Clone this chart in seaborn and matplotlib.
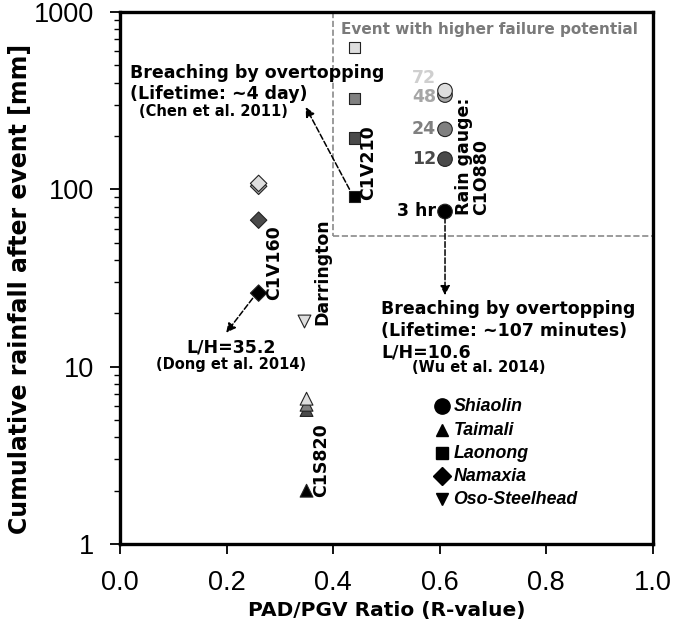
import pandas as pd
import seaborn as sns
import matplotlib.pyplot as plt
from matplotlib.lines import Line2D

# values
sites = ['Shiaolin'] * 5 + ['Taimali'] * 4 + ['Laonong'] * 4 + ['Namaxia'] * 4 + ['Oso-Steelhead']
durations = [3, 12, 24, 48, 72,
             3, 12, 24, 72,
             3, 12, 24, 72,
             3, 12, 48, 72,
             72]
r_values = [0.61] * 5 + [0.35] * 4 + [0.44] * 4 + [0.26] * 4 + [0.345]
rainfall = [75, 148, 218, 340, 360,
            2.0, 5.7, 6.1, 6.6,
            91, 195, 325, 630,
            26, 67, 104, 108,
            18]

duration_colors = {3: '#000000', 12: '#4a4a4a', 24: '#808080', 48: '#a6a6a6', 72: '#dedede'}
site_markers = {'Shiaolin': 'o', 'Taimali': '^', 'Laonong': 's', 'Namaxia': 'D', 'Oso-Steelhead': 'v'}
site_sizes = {'Shiaolin': 110, 'Taimali': 85, 'Laonong': 70, 'Namaxia': 70, 'Oso-Steelhead': 85}

df = pd.DataFrame({'site': sites, 'duration': durations, 'r': r_values, 'rain': rainfall})
# draw the longer durations last so they sit on top, as in the original
df = df.sort_values('duration').reset_index(drop=True)

sns.set_style('ticks')
plt.rcParams['font.family'] = ['Liberation Sans', 'DejaVu Sans']
plt.rcParams.update({'text.color': 'black', 'axes.labelcolor': 'black', 'axes.edgecolor': 'black',
                     'xtick.color': 'black', 'ytick.color': 'black'})
BOLD = ['DejaVu Sans']

fig = plt.figure(figsize=(6.75, 6.29), dpi=100)
ax = fig.add_axes([0.178, 0.135, 0.789, 0.846])

for site, marker in site_markers.items():
    sub = df[df['site'] == site]
    sns.scatterplot(data=sub, x='r', y='rain', hue='duration', palette=duration_colors,
                    marker=marker, s=site_sizes[site], edgecolor='#222222', linewidth=0.8,
                    legend=False, ax=ax, zorder=3)

ax.set_yscale('log')
ax.set_xlim(0, 1)
ax.set_ylim(1, 1000)
ax.set_xticks([0, 0.2, 0.4, 0.6, 0.8, 1.0])
ax.set_xticklabels(['0.0', '0.2', '0.4', '0.6', '0.8', '1.0'])
ax.set_yticks([1, 10, 100, 1000])
ax.set_yticklabels(['1', '10', '100', '1000'])
ax.tick_params(axis='both', which='major', labelsize=19.5, length=7, width=1.3, direction='out')
ax.tick_params(axis='x', which='major', pad=12)
ax.tick_params(axis='y', which='major', pad=12)
ax.tick_params(axis='y', which='minor', length=4, width=1.0, direction='out')
for sp in ax.spines.values():
    sp.set_linewidth(2.4)

ax.set_xlabel('PAD/PGV Ratio (R-value)', fontsize=14.5, fontweight='bold', family=BOLD, labelpad=3)
ax.set_ylabel('Cumulative rainfall after event [mm]', fontsize=17, fontweight='bold', family=BOLD,
              labelpad=4)
ax.yaxis.set_label_coords(-0.165, 0.48)

# high failure potential region
ax.plot([0.40, 0.40], [1000, 54.6], ls='--', color='#8a8a8a', lw=1.2, zorder=1)
ax.plot([0.40, 1.0], [54.6, 54.6], ls='--', color='#8a8a8a', lw=1.2, zorder=1)
ax.text(0.415, 793, 'Event with higher failure potential', fontsize=11, fontweight='bold',
        family=BOLD, color='#7a7a7a', va='center')

# duration labels for the rain gauge
dur_labels = [('3 hr', 75, '#000000'), ('12', 148, '#4a4a4a'), ('24', 219, '#808080'),
              ('48', 331, '#a6a6a6'), ('72', 425, '#cfcfcf')]
for lab, yv, col in dur_labels:
    ax.text(0.593, yv, lab, fontsize=12.5, fontweight='bold', family=BOLD, color=col,
            ha='right', va='center')

# rotated station labels
rot = dict(rotation=90, fontsize=12.5, fontweight='bold', family=BOLD, ha='left', va='bottom')
ax.text(0.449, 87, 'C1V210', **rot)
ax.text(0.628, 71.8, 'Rain gauge:\nC1O880', linespacing=1.0, **rot)
ax.text(0.272, 23.8, 'C1V160', **rot)
ax.text(0.362, 17.2, 'Darrington', **rot)
ax.text(0.36, 1.84, 'C1S820', **rot)

# arrows and breaching notes
arrow = dict(arrowstyle='-|>', ls='--', color='black', lw=1.1, mutation_scale=14)
ax.annotate('', xy=(0.346, 300), xytext=(0.433, 97), arrowprops=arrow)
ax.annotate('', xy=(0.196, 15.1), xytext=(0.252, 25), arrowprops=arrow)
ax.annotate('', xy=(0.61, 24.4), xytext=(0.61, 72), arrowprops=arrow)

note = dict(fontsize=12.5, fontweight='bold', family=BOLD, ha='left', va='center', linespacing=1.25)
cite = dict(fontsize=10.5, fontweight='bold', family=BOLD, ha='center', va='center')
ax.text(0.019, 395, 'Breaching by overtopping\n(Lifetime: ~4 day)', **note)
ax.text(0.176, 273, '(Chen et al. 2011)', **cite)
ax.text(0.49, 15.9, 'Breaching by overtopping\n(Lifetime: ~107 minutes)\nL/H=10.6', **note)
ax.text(0.673, 9.85, '(Wu et al. 2014)', **cite)
ax.text(0.209, 12.9, 'L/H=35.2', fontsize=12.5, fontweight='bold', family=BOLD, ha='center', va='center')
ax.text(0.209, 10.35, '(Dong et al. 2014)', **cite)

# legend with black markers
handles = [Line2D([], [], ls='', marker=m, color='black', markersize=11 if m == 'o' else 9,
                  label=s) for s, m in site_markers.items()]
leg = ax.legend(handles=handles, loc='upper left', bbox_to_anchor=(0.579, 0.287), frameon=False,
                handletextpad=0.3, labelspacing=0.45, handlelength=1.0, borderpad=0)
for t in leg.get_texts():
    t.set_fontstyle('italic')
    t.set_fontweight('bold')
    t.set_fontsize(12.8)

fig.savefig('out.png', dpi=100)
